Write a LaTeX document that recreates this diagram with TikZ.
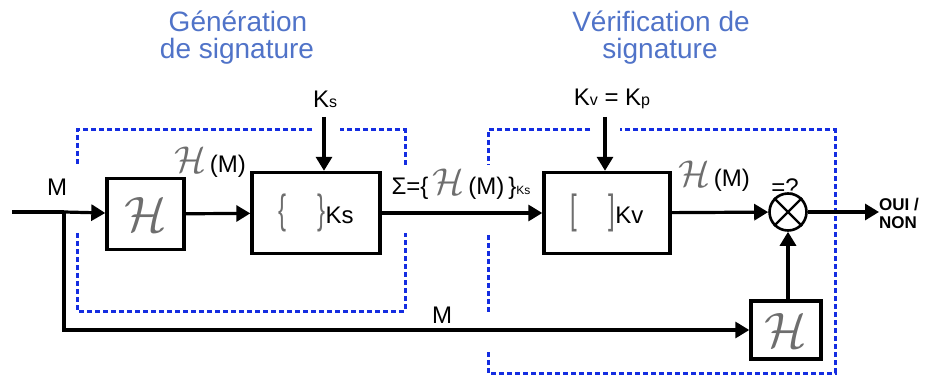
\documentclass[tikz,border=0pt]{standalone}
\usepackage{fontspec}
\setmainfont{Liberation Sans}
\usepackage{graphicx}
\usetikzlibrary{arrows.meta}
\definecolor{titleblue}{RGB}{80,115,200}
\definecolor{dashblue}{RGB}{20,45,225}
\definecolor{hgray}{RGB}{110,110,110}
\newcommand{\myH}{{\color{hgray}\scalebox{2.0}{$\mathcal{H}$}}}
\newcommand{\smH}{{\color{hgray}\scalebox{1.5}{$\mathcal{H}$}}}
\newcommand{\tallch}[1]{{\color{hgray}\scalebox{1}[1.7]{#1}}}
\begin{document}
\begin{tikzpicture}[x=1pt,y=-1pt,
  lbl/.style={inner sep=0pt,font=\fontsize{24}{26}\selectfont},
  ttl/.style={inner sep=0pt,text=titleblue,font=\fontsize{28}{30}\selectfont},
  blk/.style={draw,line width=3.4pt,inner sep=0pt,font=\fontsize{24}{26}\selectfont},
  ln/.style={line width=3.2pt},
  arr/.style={line width=3.2pt,-{Triangle[length=14pt,width=16pt]}},
  bd/.style={draw=dashblue,line width=3pt,dash pattern=on 5pt off 3pt}]
\useasboundingbox (0,0) rectangle (926,379);
% titles
\node[ttl] (t1a) at (238,21) {Génération};
\node[ttl] (t1b) at (237,51) {de signature};
\node[ttl] (t2a) at (661,21) {Vérification de};
\node[ttl] (t2b) at (660,51) {signature};
% dashed frames
\draw[bd] (312,130) -- (77,130) -- (77,165);
\draw[bd] (77,233) -- (77,311) -- (405,311) -- (405,233);
\draw[bd] (405,165) -- (405,130) -- (340,130);
\draw[bd] (590,130) -- (488,130) -- (488,165);
\draw[bd] (488,235) -- (488,312);
\draw[bd] (488,352) -- (488,373) -- (835,373) -- (835,130) -- (620,130);
% blocks
\node[blk,minimum width=77pt,minimum height=71pt] (h1) at (145.5,214) {\myH};
\node[blk,minimum width=128pt,minimum height=81pt] (ks) at (316,213) {\tallch{\{}\hspace{1.3em}\tallch{\}}Ks};
\node[blk,minimum width=126pt,minimum height=81pt] (kv) at (607,213) {\tallch{[}\hspace{1.3em}\tallch{]}Kv};
\node[blk,minimum width=70pt,minimum height=58pt] (h2) at (786,330) {\myH};
\node[draw,circle,line width=2.6pt,minimum size=37pt,inner sep=0pt] (cmp) at (788,212) {};
\draw[line width=2.4pt] (cmp.north west) -- (cmp.south east);
\draw[line width=2.4pt] (cmp.north east) -- (cmp.south west);
% coordinates
\coordinate (in) at (12,212);
\coordinate (br) at (64,212);
\coordinate (out) at (879,212);
\coordinate (kstop) at (324,117);
\coordinate (kvtop) at (605,117);
% labels
\node[lbl] (lks) at (325,99) {K{\fontsize{16}{16}\selectfont s}};
\node[lbl] (lkv) at (612,99) {K{\fontsize{16}{16}\selectfont v} = K{\fontsize{16}{16}\selectfont p}};
\node[lbl] (lm1) at (57,187) {M};
\node[lbl] (lhm1) at (210,162) {\smH\,(M)};
\node[lbl] (lsig) at (461,184) {Σ=\{\,\smH\,(M)\,\}{\fontsize{12}{12}\selectfont Ks}};
\node[lbl] (lhm2) at (714,176) {\smH\,(M)};
\node[lbl] (leq) at (785,187) {=?};
\node[lbl] (lm2) at (442,315) {M};
\node[inner sep=0pt,anchor=north west,align=left,font=\fontsize{17}{18}\selectfont\bfseries] (lout) at (879,198) {OUI /\\NON};
% connectors
\draw[ln] (in) -- (br);
\draw[arr] (br) -- (h1);
\draw[arr] (h1) -- (ks);
\draw[arr] (ks) -- (kv);
\draw[arr] (kv) -- (cmp);
\draw[arr] (cmp) -- (out);
\draw[arr] (br) |- (h2);
\draw[arr] (h2.north -| cmp.south) -- (cmp.south);
\draw[arr] (kstop) -- (kstop |- ks.north);
\draw[arr] (kvtop) -- (kvtop |- kv.north);
\end{tikzpicture}
\end{document}
